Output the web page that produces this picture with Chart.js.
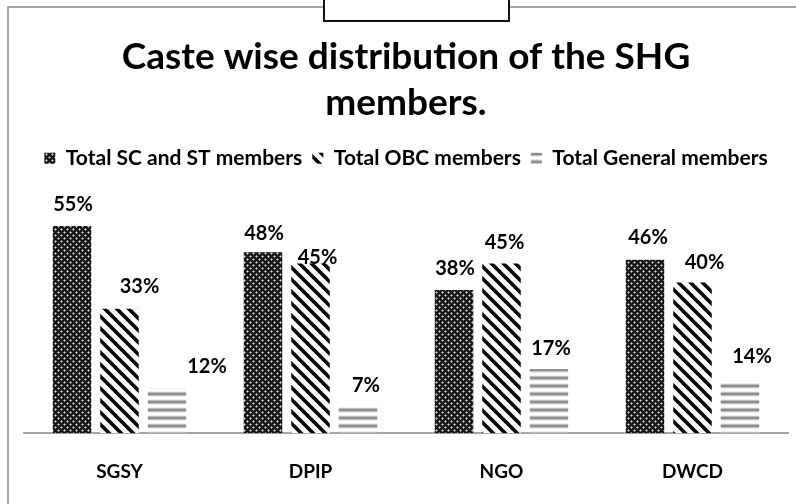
<!DOCTYPE html>
<html>
<head>
<meta charset="utf-8">
<script src="https://cdn.jsdelivr.net/npm/chart.js@4/dist/chart.umd.min.js"></script>
<style>
  html, body { margin: 0; padding: 0; background: #fff; }
  #wrap { position: relative; width: 796px; height: 504px; overflow: hidden; }
  #frame { position: absolute; left: 7px; top: 6px; width: 800px; height: 520px;
           border-left: 2px solid #a6a6a6; border-top: 2px solid #a6a6a6; }
  #tab { position: absolute; left: 323px; top: -4px; width: 183px; height: 22px;
         border: 2px solid #111; background: #fff; }
  canvas { position: absolute; left: 0; top: 0; }
</style>
</head>
<body>
<div id="wrap">
  <div id="frame"></div>
  <div id="tab"></div>
  <canvas id="chart" width="796" height="504"></canvas>
</div>
<script>
  const categories = ['SGSY', 'DPIP', 'NGO', 'DWCD'];
  const seriesNames = ['Total SC and ST members', 'Total OBC members', 'Total General members'];
  const scSt = [55, 48, 38, 46];
  const obc = [33, 45, 45, 40];
  const general = [12, 7, 17, 14];

  // label nudges (px) relative to bar centre / top, per series
  const labelShift = [
    [[1, -21], [1, -19], [1, -21], [3, -22]],
    [[20, -22], [7, -6], [3, -21], [12, -20]],
    [[40, -21], [8, -21], [2, -21], [12, -24]]
  ];

  function tile(w, h, draw) {
    const c = document.createElement('canvas');
    c.width = w; c.height = h;
    const g = c.getContext('2d');
    draw(g);
    return document.createElement('canvas').getContext('2d').createPattern(c, 'repeat');
  }

  // dark crosshatch
  const crossPat = tile(6, 6, g => {
    g.fillStyle = '#161616'; g.fillRect(0, 0, 6, 6);
    g.fillStyle = '#8a8a8a';
    [[1, 0], [0, 1], [2, 1], [1, 2], [4, 3], [3, 4], [5, 4], [4, 5]].forEach(p => g.fillRect(p[0], p[1], 1, 1));
    g.fillStyle = '#d0d0d0';
    g.fillRect(1, 1, 1, 1); g.fillRect(4, 4, 1, 1);
  });

  // black "\" stripes
  const diagPat = tile(12, 12, g => {
    g.fillStyle = '#fff'; g.fillRect(0, 0, 12, 12);
    g.strokeStyle = '#000'; g.lineWidth = 3.6;
    [-12, 0, 12].forEach(o => {
      g.beginPath(); g.moveTo(o - 2, -2); g.lineTo(o + 14, 14); g.stroke();
    });
  });

  // grey horizontal bands
  const horizPat = tile(8, 8, g => {
    g.fillStyle = '#f0f0f0'; g.fillRect(0, 0, 8, 8);
    g.fillStyle = '#bdbdbd'; g.fillRect(0, 0, 8, 1); g.fillRect(0, 3, 8, 1);
    g.fillStyle = '#8e8e8e'; g.fillRect(0, 1, 8, 2);
    g.fillStyle = '#ffffff'; g.fillRect(0, 5, 8, 2);
  });

  const labelPlugin = {
    id: 'barLabels',
    afterDatasetsDraw(chart) {
      const ctx = chart.ctx;
      ctx.save();
      ctx.font = 'bold 20px Lato';
      ctx.fillStyle = '#000';
      ctx.textAlign = 'center';
      ctx.textBaseline = 'middle';
      chart.data.datasets.forEach((ds, i) => {
        chart.getDatasetMeta(i).data.forEach((bar, j) => {
          const s = labelShift[i][j];
          ctx.fillText(ds.data[j] + '%', bar.x + s[0], bar.y + s[1]);
        });
      });
      ctx.restore();
    }
  };

  new Chart(document.getElementById('chart').getContext('2d'), {
    type: 'bar',
    data: {
      labels: categories,
      datasets: [
        { label: seriesNames[0], data: scSt, backgroundColor: crossPat },
        { label: seriesNames[1], data: obc, backgroundColor: diagPat },
        { label: seriesNames[2], data: general, backgroundColor: horizPat }
      ]
    },
    options: {
      responsive: false,
      animation: false,
      categoryPercentage: 0.746,
      barPercentage: 0.81,
      layout: { padding: { left: 24, right: 8, top: 0, bottom: -6 } },
      plugins: {
        title: {
          display: true,
          text: ['Caste wise distribution of the SHG', 'members.'],
          color: '#000',
          font: { family: 'Lato', weight: 'bold', size: 37, lineHeight: 1.24 },
          padding: { top: 34, bottom: 12 }
        },
        legend: {
          labels: {
            color: '#000',
            font: { family: 'Lato', weight: 'bold', size: 21 },
            boxWidth: 11, boxHeight: 11, padding: 10
          }
        },
        tooltip: { enabled: false }
      },
      scales: {
        x: {
          grid: { display: false, drawTicks: false },
          border: { color: '#a6a6a6', width: 2 },
          ticks: { color: '#000', padding: 27, font: { family: 'Lato', weight: 'bold', size: 19 } }
        },
        y: { display: false, min: 0, max: 67.5 }
      }
    },
    plugins: [labelPlugin]
  });
</script>
</body>
</html>
